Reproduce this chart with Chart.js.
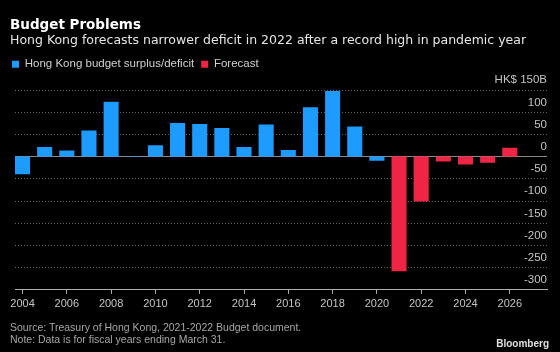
<!DOCTYPE html>
<html>
<head>
<meta charset="utf-8">
<script src="https://cdn.jsdelivr.net/npm/chart.js@4.4.1/dist/chart.umd.min.js"></script>
<style>
  html, body { margin: 0; padding: 0; background: #000; }
  #wrap { position: relative; width: 560px; height: 352px; overflow: hidden; background: #000; }
  #chart { position: absolute; left: 0; top: 0; width: 560px; height: 352px; }
  .txt { position: absolute; white-space: nowrap; }
  #title { left: 10px; top: 18px; font: bold 13.5px/13.5px 'DejaVu Sans', sans-serif; color: #fff; }
  #subtitle { left: 10px; top: 34.4px; font: 12.5px/12.5px 'DejaVu Sans', sans-serif; color: #e6e6e6; }
  .foot { left: 10px; font: 10.5px/10.5px 'Liberation Sans', sans-serif; color: #a6a6a6; }
  #logo { right: 11px; top: 338.5px; font: bold 10px/10px 'Liberation Sans', sans-serif; color: #e0e0e0; }
</style>
</head>
<body>
<div id="wrap">
  <div id="chart"><canvas id="myChart"></canvas></div>
  <div class="txt" id="title">Budget Problems</div>
  <div class="txt" id="subtitle">Hong Kong forecasts narrower deficit in 2022 after a record high in pandemic year</div>
  <div class="txt foot" style="top:321.8px">Source: Treasury of Hong Kong, 2021-2022 Budget document.</div>
  <div class="txt foot" style="top:333.6px">Note: Data is for fiscal years ending March 31.</div>
  <div class="txt" id="logo">Bloomberg</div>
</div>
<script>
  // Datos (años fiscales que terminan el 31 de marzo, HK$ miles de millones)
  const years = [2004, 2005, 2006, 2007, 2008, 2009, 2010, 2011, 2012, 2013, 2014, 2015,
                 2016, 2017, 2018, 2019, 2020, 2021, 2022, 2023, 2024, 2025, 2026];
  const actual = [-40, 21.5, 14, 59, 123.5, 1.5, 25.5, 75.5, 73.5, 64.5, 21.5, 72.5,
                  15, 111, 148, 68, -9.5, null, null, null, null, null, null];
  const forecast = [null, null, null, null, null, null, null, null, null, null, null, null,
                    null, null, null, null, null, -258, -101, -11, -18, -14, 20];
  const yearTicks = [2004, 2006, 2008, 2010, 2012, 2014, 2016, 2018, 2020, 2022, 2024, 2026];
  const valueTicks = [-300, -250, -200, -150, -100, -50, 0, 50, 100, 150];

  const toPoints = (vals) => years
    .map((x, i) => ({ x: x, y: vals[i] }))
    .filter(p => p.y !== null);

  // espacio extra bajo la leyenda
  const legendGap = {
    id: 'legendGap',
    beforeInit(chart) {
      const fit = chart.legend.fit;
      chart.legend.fit = function () {
        fit.call(this);
        this.height += 10;
      };
    }
  };

  const ctx = document.getElementById('myChart');
  const chart1 = new Chart(ctx, {
    type: 'bar',
    data: {
      datasets: [{
        label: 'Hong Kong budget surplus/deficit',
        data: toPoints(actual),
        backgroundColor: '#1e9bff',
        borderWidth: 0,
        grouped: false,
        barPercentage: 0.68,
        categoryPercentage: 1
      }, {
        label: 'Forecast',
        data: toPoints(forecast),
        backgroundColor: '#f02546',
        borderWidth: 0,
        grouped: false,
        barPercentage: 0.68,
        categoryPercentage: 1
      }]
    },
    options: {
      responsive: true,
      maintainAspectRatio: false,
      animation: false,
      layout: { padding: { left: 5, right: 13, top: 51.5, bottom: 37 } },
      plugins: {
        title: { display: false },
        tooltip: { enabled: false },
        legend: {
          display: true,
          align: 'start',
          labels: {
            color: '#d0d0d0',
            boxWidth: 7,
            boxHeight: 7,
            padding: 7,
            font: { family: "'Liberation Sans', sans-serif", size: 11.5 }
          }
        }
      },
      scales: {
        x: {
          type: 'linear',
          position: 'bottom',
          bounds: 'data',
          min: 2003.66,
          max: 2027.68,
          offset: false,
          afterBuildTicks: (scale) => { scale.ticks = yearTicks.map(v => ({ value: v })); },
          ticks: {
            color: '#c4c4c4',
            padding: 4,
            maxRotation: 0,
            autoSkip: false,
            font: { family: "'Liberation Sans', sans-serif", size: 11 },
            callback: (v) => String(v)
          },
          grid: {
            drawOnChartArea: false,
            drawTicks: true,
            tickLength: 4,
            tickColor: '#b0b0b0',
            offset: false
          },
          border: { display: true, color: '#b0b0b0', width: 1 }
        },
        pad: {
          type: 'linear',
          position: 'left',
          display: true,
          grid: { display: false },
          border: { display: false },
          ticks: { display: false },
          afterFit: (scale) => { scale.width = 10; }
        },
        y: {
          type: 'linear',
          position: 'right',
          min: -300,
          max: 150,
          afterBuildTicks: (scale) => { scale.ticks = valueTicks.map(v => ({ value: v })); },
          ticks: {
            mirror: true,
            padding: 0,
            autoSkip: false,
            color: '#c4c4c4',
            font: { family: "'Liberation Sans', sans-serif", size: 11.5, lineHeight: 1.7 },
            callback: (v) => [v === 150 ? 'HK$ 150B' : String(v), '']
          },
          grid: {
            drawTicks: false,
            color: (c) => c.tick && c.tick.value === 0 ? '#8a8a8a'
                       : (c.tick && c.tick.value === -300 ? '#b0b0b0' : '#666666')
          },
          border: {
            display: false,
            dash: (c) => c.tick && (c.tick.value === 0 || c.tick.value === -300) ? [] : [1, 2]
          }
        }
      }
    },
    plugins: [legendGap]
  });
</script>
</body>
</html>
